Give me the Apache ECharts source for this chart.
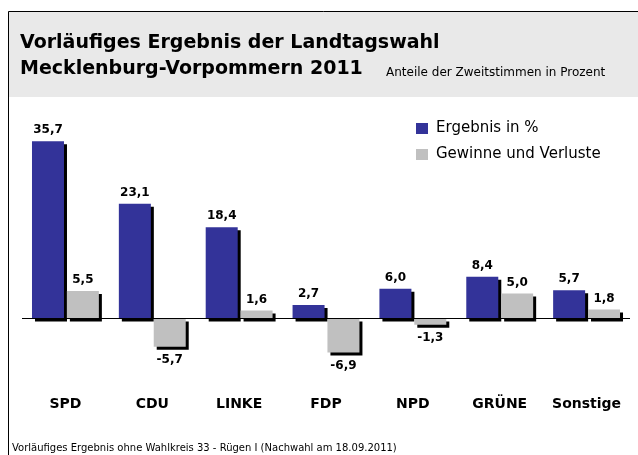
<!DOCTYPE html>
<html>
<head>
<meta charset="utf-8">
<script src="https://cdn.jsdelivr.net/npm/echarts@6/dist/echarts.min.js"></script>
<style>
  html, body { margin: 0; padding: 0; background: #fff; }
  #chart { width: 638px; height: 455px; }
</style>
</head>
<body>
<div id="chart"></div>
<script>
// Parteien und Werte (Zweitstimmen in %)
const parties = ['SPD', 'CDU', 'LINKE', 'FDP', 'NPD', 'GRÜNE', 'Sonstige']
const ergebnis = [35.7, 23.1, 18.4, 2.7, 6.0, 8.4, 5.7]
const gewinne = [5.5, -5.7, 1.6, -6.9, -1.3, 5.0, 1.8]

const font = 'DejaVu Sans, sans-serif'

function fmt(v) {
  return v.toFixed(1).replace('.', ',')
}

// negative Balken bekommen das Label unten
function toItems(arr) {
  return arr.map(function(v) {
    return {
      value: v,
      label: v < 0 ? { position: 'bottom', distance: 7 } : { position: 'top', distance: 5 }
    }
  })
}

const barShadow = {
  shadowColor: '#000',
  shadowBlur: 0,
  shadowOffsetX: 3,
  shadowOffsetY: 3
}

const valueLabel = {
  show: true,
  fontFamily: font,
  fontSize: 12,
  fontWeight: 'bold',
  color: '#000',
  formatter: function(p) { return fmt(p.value) }
}

const chart = echarts.init(document.getElementById('chart'))
const option = {
  animation: false,
  backgroundColor: '#fff',
  textStyle: { fontFamily: font },
  graphic: [
    // Kopfbereich grau
    {
      type: 'rect',
      shape: { x: 8, y: 12, width: 640, height: 85 },
      style: { fill: '#e9e9e9' },
      z: -10
    },
    // Rahmen links und oben
    {
      type: 'polyline',
      shape: { points: [[8.5, 460], [8.5, 11.5], [640, 11.5]] },
      style: { stroke: '#000', lineWidth: 1, fill: null },
      z: -9
    }
  ],
  title: [
    {
      text: 'Vorläufiges Ergebnis der Landtagswahl\nMecklenburg-Vorpommern 2011',
      left: 15,
      top: 25,
      textStyle: {
        fontFamily: font,
        fontSize: 19,
        fontWeight: 'bold',
        color: '#000',
        lineHeight: 26
      }
    },
    {
      text: 'Anteile der Zweitstimmen in Prozent',
      left: 381,
      top: 62,
      textStyle: { fontFamily: font, fontSize: 12, fontWeight: 'normal', color: '#000' }
    },
    {
      text: 'Vorläufiges Ergebnis ohne Wahlkreis 33 - Rügen I (Nachwahl am 18.09.2011)',
      left: 7,
      top: 438,
      textStyle: { fontFamily: font, fontSize: 10, fontWeight: 'normal', color: '#000' }
    }
  ],
  legend: {
    orient: 'vertical',
    left: 411,
    top: 116,
    itemWidth: 12,
    itemHeight: 11,
    itemGap: 11,
    icon: 'rect',
    textStyle: {
      fontFamily: font,
      fontSize: 15,
      color: '#000',
      padding: [0, 0, 0, 3]
    },
    data: ['Ergebnis in %', 'Gewinne und Verluste']
  },
  grid: {
    left: 22,
    right: 8,
    top: 120,
    height: 248,
    containLabel: false
  },
  xAxis: {
    type: 'category',
    data: parties,
    axisLine: { show: false },
    axisTick: { show: false },
    axisLabel: {
      interval: 0,
      margin: 29,
      fontFamily: font,
      fontSize: 14,
      fontWeight: 'bold',
      color: '#000'
    }
  },
  yAxis: {
    type: 'value',
    min: -10,
    max: 40,
    axisLine: { show: false },
    axisTick: { show: false },
    axisLabel: { show: false },
    splitLine: { show: false }
  },
  series: [
    {
      name: 'Ergebnis in %',
      type: 'bar',
      data: toItems(ergebnis),
      barWidth: 32,
      barGap: '9%',
      itemStyle: Object.assign({ color: '#333399' }, barShadow),
      label: valueLabel,
      // Nulllinie
      markLine: {
        silent: true,
        symbol: 'none',
        label: { show: false },
        lineStyle: { color: '#000', width: 1, type: 'solid' },
        data: [{ yAxis: 0 }]
      }
    },
    {
      name: 'Gewinne und Verluste',
      type: 'bar',
      data: toItems(gewinne),
      barWidth: 32,
      itemStyle: Object.assign({ color: '#c0c0c0' }, barShadow),
      label: valueLabel
    }
  ]
}
chart.setOption(option)
</script>
</body>
</html>
